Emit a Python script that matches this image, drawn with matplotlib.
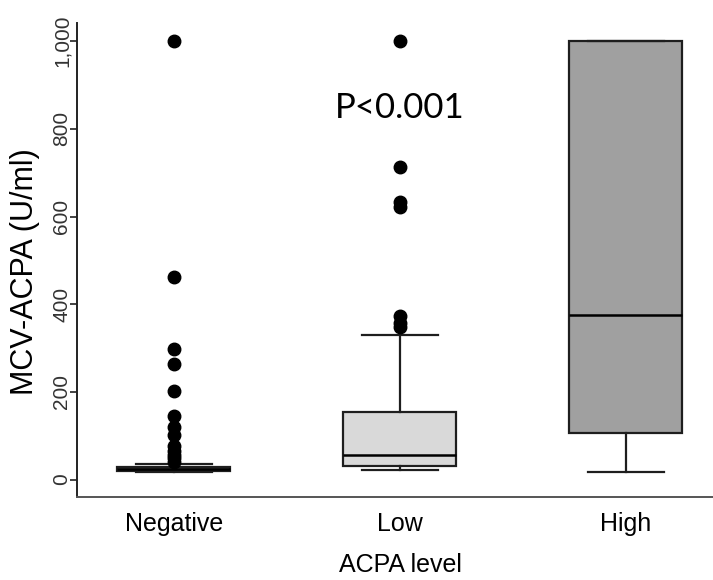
import matplotlib.pyplot as plt
import numpy as np

# group labels and box statistics (U/ml)
groups = ['Negative', 'Low', 'High']
q1 = [19, 30, 105]
medians = [23, 57, 375]
q3 = [29, 153, 1000]
whisker_lo = [17, 21, 18]
whisker_hi = [35, 330, 1000]
outliers = [
    [1000, 462, 297, 263, 201, 146, 119, 102, 77, 66, 57, 48, 41],
    [1000, 714, 634, 622, 372, 356, 348],
    [],
]
fills = ['#555555', '#d9d9d9', '#a0a0a0']
yticks = [0, 200, 400, 600, 800, 1000]
ytick_labels = ['0', '200', '400', '600', '800', '1,000']

plt.rcParams['font.family'] = ['Liberation Sans', 'DejaVu Sans']

fig = plt.figure(figsize=(7.13, 5.8), dpi=100)
ax = fig.add_axes([0.108, 0.143, 0.892, 0.817])

stats = []
for i, name in enumerate(groups):
    stats.append({'label': name, 'q1': q1[i], 'med': medians[i], 'q3': q3[i],
                  'whislo': whisker_lo[i], 'whishi': whisker_hi[i], 'fliers': outliers[i]})

edge = '#1e1e1e'
bp = ax.bxp(stats, positions=[1, 2, 3], widths=0.5, capwidths=0.34, patch_artist=True,
            boxprops=dict(edgecolor=edge, linewidth=1.6),
            medianprops=dict(color='black', linewidth=1.8),
            whiskerprops=dict(color=edge, linewidth=1.6),
            capprops=dict(color=edge, linewidth=1.6),
            flierprops=dict(marker='o', markerfacecolor='black', markeredgecolor='black',
                            markersize=9))
for patch, c in zip(bp['boxes'], fills):
    patch.set_facecolor(c)

ax.set_xlim(0.571, 3.385)
ax.set_ylim(-40, 1041)

ax.spines['top'].set_visible(False)
ax.spines['right'].set_visible(False)
ax.spines['left'].set_color('#222222')
ax.spines['left'].set_linewidth(1.4)
ax.spines['bottom'].set_color('#555555')
ax.spines['bottom'].set_linewidth(1.4)

ax.set_yticks(yticks)
ax.set_yticklabels(ytick_labels, rotation=90, va='center', fontsize=15, color='#333333')
ax.tick_params(axis='y', length=5, width=1.2, color='#222222', pad=-1)
ax.tick_params(axis='x', length=0, labelsize=18, pad=11)
ax.set_xticks([1, 2, 3])
ax.set_xticklabels(groups)

ax.set_xlabel('ACPA level', fontsize=18)
ax.xaxis.set_label_coords(0.508, -0.118)
ax.set_ylabel('MCV-ACPA (U/ml)', fontsize=22)
ax.yaxis.set_label_coords(-0.058, 0.475)

ax.text(2, 847, 'P<0.001', ha='center', va='center', fontsize=25,
        family=['Lato', 'DejaVu Sans'])

fig.savefig('out.png', dpi=100)
